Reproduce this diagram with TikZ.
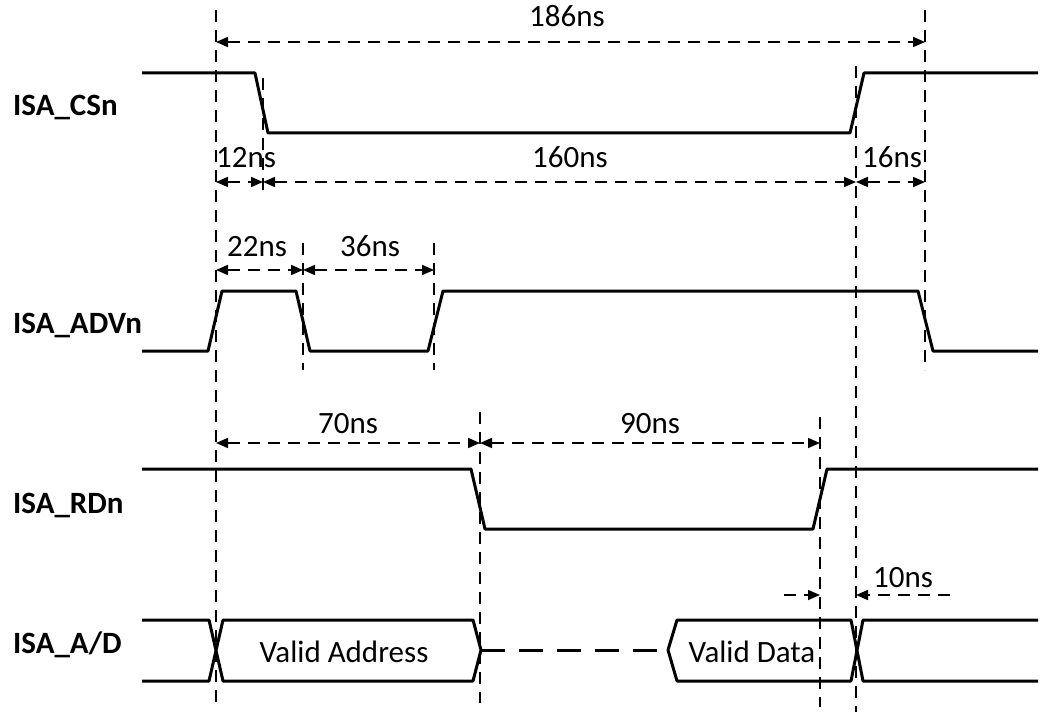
\documentclass[tikz,border=0pt]{standalone}
\usepackage{fontspec}
\setmainfont{Carlito}
\usetikzlibrary{arrows.meta}

\tikzset{
  sig/.style={line width=3pt},
  guide/.style={line width=1.7pt, dash pattern=on 12pt off 8pt},
  dim/.style={guide, {Triangle[length=12pt,width=10pt]}-{Triangle[length=12pt,width=10pt]}},
  dimto/.style={guide, -{Triangle[length=12pt,width=10pt]}},
  lbl/.style={font=\fontsize{31}{37}\selectfont, inner sep=0pt, anchor=base},
  sname/.style={font=\fontsize{31}{37}\selectfont\bfseries, inner sep=0pt, anchor=base west},
}

\begin{document}
\begin{tikzpicture}[x=1pt, y=-1pt, line join=round]
\useasboundingbox (0,0) rectangle (1041,714);
%\draw[help lines, step=50] (0,0) grid (1041,714);

% time marks
\foreach \n/\x in {T0/216, T1/263, T2/303, T3/434, T4/480, T5/820, T6/856, T7/925}
  \coordinate (\n) at (\x,0);

% guide lines
\foreach \n/\ya/\yb in {T0/10/705, T1/78/195, T2/243/370, T3/243/370,
                        T4/412/703, T5/417/707, T6/66/712, T7/10/370}
  \draw [guide] (\n |- 0,\ya) -- (\n |- 0,\yb);

% signal names
\node [sname] (ncs)  at (13,116) {ISA\_CSn};
\node [sname] (nadv) at (13,333) {ISA\_ADVn};
\node [sname] (nrd)  at (13,513) {ISA\_RDn};
\node [sname] (nad)  at (13,653) {ISA\_A/D};

% waveforms
\draw [sig] (142,73) -- (255,73) -- (268,133) -- (850,133) -- (864,73) -- (1038,73);
\draw [sig] (142,351) -- (208,351) -- (222,291) -- (296,291) -- (310,351)
  -- (428,351) -- (443,291) -- (918,291) -- (933,351) -- (1038,351);
\draw [sig] (142,469) -- (471,469) -- (485,529) -- (813,529) -- (827,469) -- (1038,469);

\draw [sig] (142,620) -- (209,620) -- (223,681) -- (473,681) -- (481,650)
  -- (473,620) -- (223,620) -- (209,681) -- (142,681);
\draw [sig, dash pattern=on 24pt off 14pt] (481,650) -- (668,650);
\draw [sig] (1038,620) -- (863,620) -- (851,681) -- (677,681) -- (668,650)
  -- (677,620) -- (851,620) -- (863,681) -- (1038,681);
\node [lbl] (addr) at (344,662) {Valid Address};
\node [lbl] (data) at (752,662) {Valid Data};

% timings
\foreach \a/\b/\y/\t/\tx/\ty in {T0/T7/42/186ns/567/27,
    T0/T1/182/12ns/246/168, T1/T6/182/160ns/570/168, T6/T7/182/16ns/892/168,
    T0/T2/270/22ns/257/256, T2/T3/270/36ns/370/256,
    T0/T4/443/70ns/348/433, T4/T5/443/90ns/650/433}
{
  \draw [dim] (\a |- 0,\y) -- (\b |- 0,\y);
  \node [lbl] (l\t) at (\tx,\ty) {\t};
}

\coordinate (h10a) at (784,595);
\coordinate (h10b) at (950,595);
\draw [dimto] (h10a) -- (T5 |- h10a);
\draw [dimto] (h10b) -- (T6 |- h10b);
\node [lbl] (l10ns) at (903,587) {10ns};

\end{tikzpicture}
\end{document}
